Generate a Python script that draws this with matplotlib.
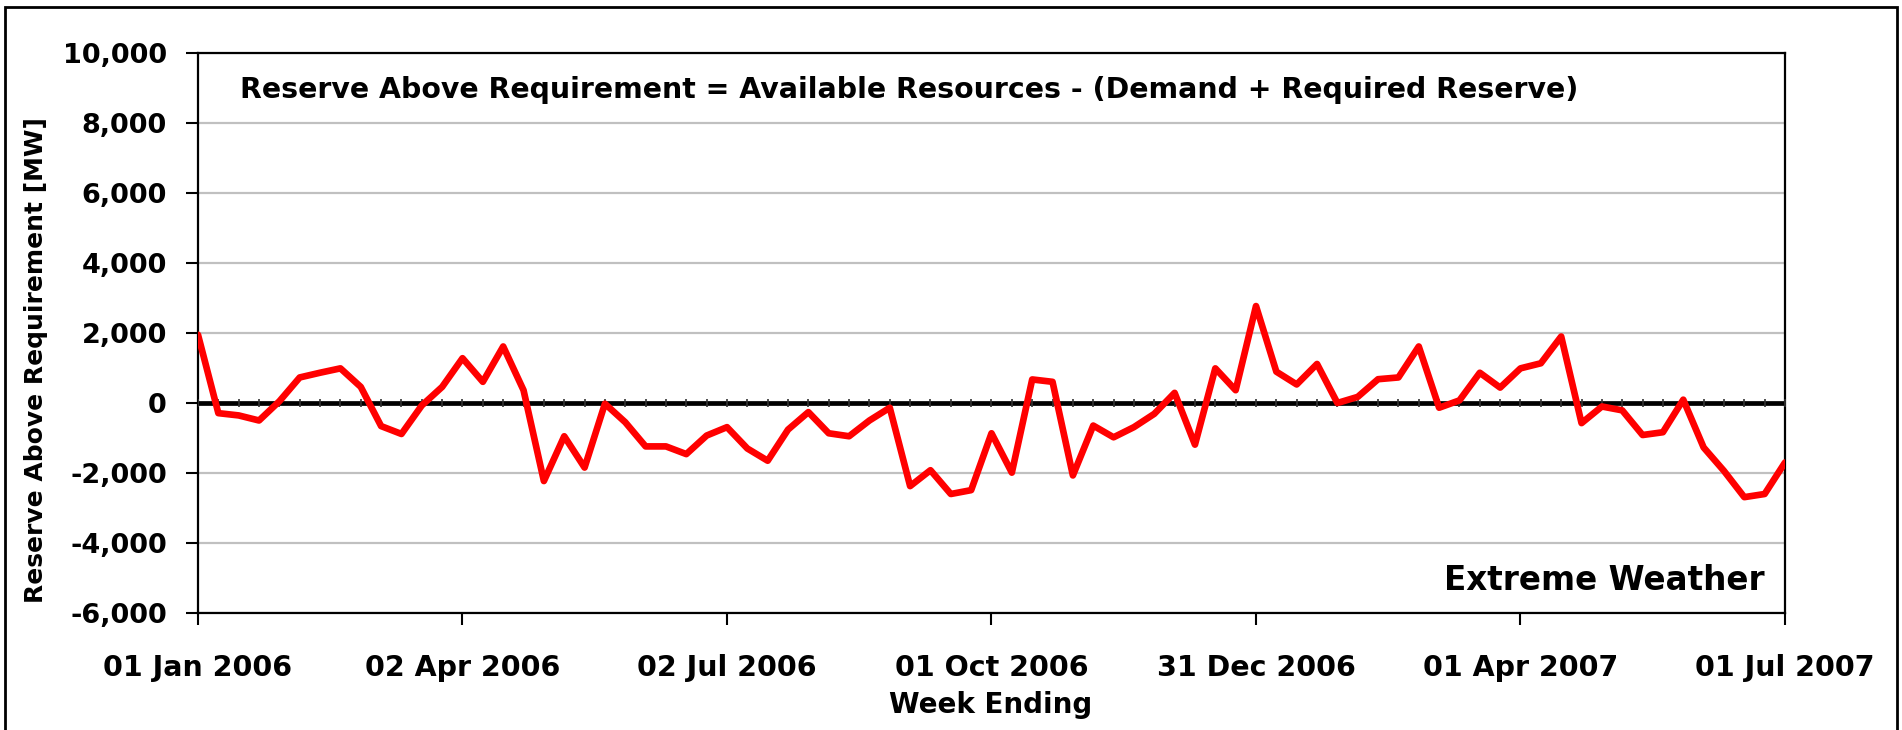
import matplotlib
matplotlib.use("Agg")
import matplotlib.pyplot as plt
import matplotlib.dates as mdates
from matplotlib.patches import Rectangle
from matplotlib.ticker import FuncFormatter, FixedLocator
import numpy as np
import pandas as pd

# ---- data ----
start_date = "2006-01-01"
n_weeks = 79
reserve_mw = [
    1950, -290, -355, -500, 50, 730, 865, 990, 460, -660,
    -885, -70, 460, 1280, 605, 1615, 365, -2230, -950, -1845,
    -20, -550, -1240, -1240, -1460, -930, -690, -1300, -1650, -760,
    -260, -865, -950, -500, -135, -2375, -1920, -2600, -2490, -865,
    -1990, 673, 605, -2070, -645, -980, -690, -310, 290, -1190,
    990, 365, 2770, 895, 530, 1115, 0, 175, 680, 730,
    1615, -135, 75, 865, 440, 990, 1135, 1900, -575, -100,
    -210, -915, -835, 95, -1270, -1940, -2690, -2600, -1700,
]
y_ticks = [-6000, -4000, -2000, 0, 2000, 4000, 6000, 8000, 10000]
x_tick_step = 13
formula_text = "Reserve Above Requirement = Available Resources - (Demand + Required Reserve)"
scenario_text = "Extreme Weather"
x_label = "Week Ending"
y_label = "Reserve Above Requirement [MW]"

weeks = pd.date_range(start_date, periods=n_weeks, freq="7D")

plt.rcParams['font.family'] = ['DejaVu Sans']

W, H = 1902, 730
fig = plt.figure(figsize=(W / 100, H / 100), dpi=100)
L, R, T, B = 198, 1785, 53, 613
ax = fig.add_axes([L / W, 1 - B / H, (R - L) / W, (B - T) / H])

ax.plot(weeks, reserve_mw, color="#ff0000", lw=4.8, zorder=4,
        solid_joinstyle="round", solid_capstyle="round")
ax.axhline(0, color="black", lw=3.4, zorder=3)
ax.plot(weeks, np.zeros(len(weeks)), ls="none", marker="|", ms=5.5, mew=1.2,
        color="#333333", zorder=3)

ax.set_xlim(weeks[0], weeks[-1])
ax.set_ylim(y_ticks[0], y_ticks[-1])
ax.set_yticks(y_ticks)
ax.yaxis.set_major_formatter(FuncFormatter(lambda v, p: f"{int(v):,}"))
ax.xaxis.set_major_locator(FixedLocator(mdates.date2num(weeks[::x_tick_step])))
ax.xaxis.set_major_formatter(mdates.DateFormatter("%d %b %Y"))

ax.yaxis.grid(True, color="#c0c0c0", lw=1.6)
ax.set_axisbelow(True)
for s in ax.spines.values():
    s.set_color("black")
    s.set_linewidth(1.6)

ax.tick_params(axis="y", direction="out", length=8.5, width=1.5, pad=14,
               labelsize=19.5, colors="black")
ax.tick_params(axis="x", direction="out", length=8.5, width=1.5, pad=21,
               labelsize=20.5, colors="black")
for lab in ax.get_xticklabels() + ax.get_yticklabels():
    lab.set_fontweight("bold")

ax.text((240 - L) / (R - L), (B - 90) / (B - T), formula_text,
        transform=ax.transAxes, ha="left", va="center", fontsize=20.4,
        fontweight="bold")
ax.text((1765 - L) / (R - L), (B - 581) / (B - T), scenario_text,
        transform=ax.transAxes, ha="right", va="center", fontsize=23.5,
        fontweight="bold")

fig.text(36 / W, 1 - 360 / H, y_label, rotation=90, ha="center", va="center",
         fontsize=18, fontweight="bold")
fig.text(991 / W, 1 - 705 / H, x_label, ha="center", va="center",
         fontsize=20, fontweight="bold")

fig.add_artist(Rectangle((5 / W, -0.05), (1897 - 5) / W, (H - 7) / H + 0.05,
                         transform=fig.transFigure, fill=False, lw=2,
                         ec="black"))

fig.savefig("out.png", dpi=100)
